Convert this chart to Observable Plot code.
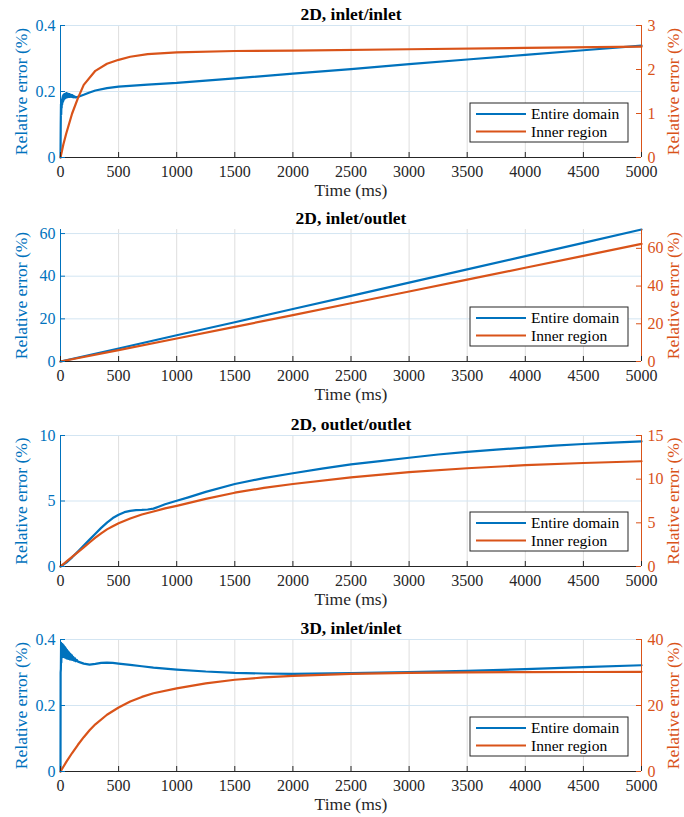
<!DOCTYPE html>
<html><head><meta charset="utf-8">
<script src="https://cdn.jsdelivr.net/npm/d3@7"></script>
<script src="https://cdn.jsdelivr.net/npm/@observablehq/plot@0.6"></script>
<style>body{margin:0;background:#fff;} #chart svg{display:block;}</style>
</head><body><div id="chart"></div>
<script>
const BLUE = "#0072BD", ORANGE = "#D95319";
const timeTicks = [0, 500, 1000, 1500, 2000, 2500, 3000, 3500, 4000, 4500, 5000];
const panelTitles = ["2D, inlet/inlet", "2D, inlet/outlet", "2D, outlet/outlet", "3D, inlet/inlet"];
const seriesNames = ["Entire domain", "Inner region"];
const xLabel = "Time (ms)";
const yLabel = "Relative error (%)";

// Panel 1: 2D, inlet/inlet  (left axis: entire, right axis: inner)
const p1Entire = [[0,0],[2,0.10],[4,0.162],[6,0.13],[8,0.165],[10,0.15],[12,0.175],[14,0.16],[16,0.18],[18,0.166],[20,0.186],[23,0.171],[26,0.19],[29,0.175],[32,0.192],[35,0.178],[38,0.193],[41,0.18],[44,0.194],[47,0.181],[50,0.195],[54,0.182],[58,0.194],[62,0.183],[66,0.193],[70,0.184],[74,0.192],[78,0.184],[82,0.191],[86,0.184],[90,0.19],[95,0.184],[100,0.189],[105,0.183],[110,0.187],[115,0.182],[120,0.185],[130,0.182],[140,0.183],[160,0.185],[200,0.19],[250,0.197],[300,0.203],[400,0.21],[500,0.215],[750,0.221],[1000,0.226],[1500,0.24],[2000,0.254],[2500,0.268],[3000,0.283],[3500,0.297],[4000,0.311],[4500,0.325],[5000,0.339]];
const p1Inner = [[0,0],[25,0.3],[50,0.55],[100,1.0],[150,1.35],[200,1.65],[300,1.97],[400,2.13],[500,2.22],[600,2.29],[750,2.35],[1000,2.39],[1500,2.42],[2000,2.43],[3000,2.46],[4000,2.49],[5000,2.52]];
const p1LeftTicks = [0, 0.2, 0.4], p1RightTicks = [0, 1, 2, 3];

// Panel 2: 2D, inlet/outlet
const p2Entire = [[0,0],[500,6.1],[1000,12.3],[1500,18.4],[2000,24.6],[2500,30.8],[3000,37.0],[3500,43.2],[4000,49.4],[4500,55.6],[5000,61.9]];
const p2Inner = [[0,0],[500,6.0],[1000,12.2],[1500,18.4],[2000,24.6],[2500,30.9],[3000,37.1],[3500,43.4],[4000,49.7],[4500,56.0],[5000,62.4]];
const p2LeftTicks = [0, 20, 40, 60], p2RightTicks = [0, 20, 40, 60];

// Panel 3: 2D, outlet/outlet
const p3Entire = [[0,0],[50,0.3],[100,0.7],[150,1.15],[200,1.6],[250,2.05],[300,2.5],[350,2.95],[400,3.35],[450,3.7],[500,3.95],[550,4.15],[600,4.25],[650,4.3],[700,4.32],[750,4.35],[800,4.42],[850,4.58],[900,4.75],[1000,5.02],[1100,5.28],[1250,5.7],[1500,6.3],[1750,6.75],[2000,7.12],[2250,7.47],[2500,7.8],[2750,8.05],[3000,8.3],[3250,8.55],[3500,8.75],[3750,8.92],[4000,9.08],[4250,9.22],[4500,9.35],[4750,9.45],[5000,9.55]];
const p3Inner = [[0,0],[50,0.55],[100,1.1],[150,1.65],[200,2.2],[250,2.75],[300,3.3],[350,3.8],[400,4.25],[450,4.6],[500,4.95],[600,5.5],[700,5.95],[800,6.3],[900,6.65],[1000,6.95],[1250,7.75],[1500,8.45],[1750,9.0],[2000,9.45],[2500,10.2],[3000,10.8],[3500,11.25],[4000,11.6],[4500,11.85],[5000,12.05]];
const p3LeftTicks = [0, 5, 10], p3RightTicks = [0, 5, 10, 15];

// Panel 4: 3D, inlet/inlet
const p4Entire = [[0,0],[1,0.30],[3,0.31],[5,0.39],[7,0.33],[9,0.385],[11,0.345],[13,0.387],[15,0.35],[18,0.385],[21,0.348],[24,0.383],[27,0.347],[30,0.38],[34,0.346],[38,0.377],[42,0.345],[46,0.373],[50,0.343],[55,0.369],[60,0.342],[65,0.364],[70,0.341],[75,0.36],[80,0.34],[86,0.356],[92,0.339],[98,0.352],[104,0.338],[110,0.347],[117,0.336],[124,0.343],[132,0.334],[140,0.338],[150,0.333],[175,0.33],[200,0.327],[250,0.324],[300,0.326],[350,0.329],[400,0.33],[450,0.329],[500,0.327],[600,0.323],[700,0.319],[800,0.315],[1000,0.309],[1250,0.303],[1500,0.299],[1750,0.297],[2000,0.296],[2500,0.298],[3000,0.301],[3500,0.305],[4000,0.31],[4500,0.316],[5000,0.322]];
const p4Inner = [[0,0],[50,2.9],[100,5.6],[150,8.1],[200,10.4],[250,12.5],[300,14.3],[400,17.2],[500,19.4],[600,21.2],[700,22.6],[800,23.7],[1000,25.2],[1250,26.7],[1500,27.8],[1750,28.5],[2000,29.0],[2500,29.6],[3000,29.9],[3500,30.05],[4000,30.1],[4500,30.15],[5000,30.2]];
const p4LeftTicks = [0, 0.2, 0.4], p4RightTicks = [0, 20, 40];

const panels = [
  {title: panelTitles[0], entire: p1Entire, inner: p1Inner, leftMax: 0.4, rightMax: 3, leftTicks: p1LeftTicks, rightTicks: p1RightTicks, mt: 25, ph: 132, mb: 47},
  {title: panelTitles[1], entire: p2Entire, inner: p2Inner, leftMax: 61.9, rightMax: 70, leftTicks: p2LeftTicks, rightTicks: p2RightTicks, mt: 25, ph: 132, mb: 47},
  {title: panelTitles[2], entire: p3Entire, inner: p3Inner, leftMax: 10, rightMax: 15, leftTicks: p3LeftTicks, rightTicks: p3RightTicks, mt: 27, ph: 131, mb: 47},
  {title: panelTitles[3], entire: p4Entire, inner: p4Inner, leftMax: 0.4, rightMax: 40, leftTicks: p4LeftTicks, rightTicks: p4RightTicks, mt: 26, ph: 132, mb: 46}
];

const fmt = v => String(+(+v).toFixed(6));
const W = 684, ML = 60, MR = 43, FONT = "'Liberation Serif', 'Times New Roman', serif";
const chart = document.getElementById("chart");

for (const p of panels) {
  const k = p.leftMax / p.rightMax;
  const pw = W - ML - MR;
  const tx = 5000 * 5 / pw, ty = p.leftMax * 5 / p.ph;
  const rightPos = p.rightTicks.map(t => t * k);
  const svg = Plot.plot({
    width: W, height: p.mt + p.ph + p.mb,
    marginLeft: ML, marginRight: MR, marginTop: p.mt, marginBottom: p.mb,
    x: {domain: [0, 5000]},
    y: {domain: [0, p.leftMax]},
    style: {fontFamily: FONT, fontSize: "16px", background: "white", overflow: "visible", color: "#262626"},
    marks: [
      Plot.ruleX(timeTicks, {stroke: "#dedede", strokeWidth: 1}),
      Plot.ruleY(p.leftTicks, {stroke: "#d3e5f2", strokeWidth: 1}),
      Plot.line(p.entire, {x: d => d[0], y: d => d[1], stroke: BLUE, strokeWidth: 2.2}),
      Plot.line(p.inner, {x: d => d[0], y: d => d[1] * k, stroke: ORANGE, strokeWidth: 2.2}),
      Plot.ruleY([0], {stroke: "#262626"}),
      Plot.ruleX([0], {stroke: BLUE}),
      Plot.ruleX([5000], {stroke: ORANGE}),
      Plot.ruleX(timeTicks, {y1: 0, y2: ty, stroke: "#262626"}),
      Plot.ruleY(p.leftTicks, {x1: 0, x2: tx, stroke: BLUE}),
      Plot.ruleY(rightPos, {x1: 5000 - tx, x2: 5000, stroke: ORANGE}),
      Plot.axisX(timeTicks, {tickSize: 0, tickPadding: 8, tickFormat: d => String(d), label: null, fill: "#262626"}),
      Plot.axisY(p.leftTicks, {anchor: "left", tickSize: 0, tickPadding: 5, tickFormat: fmt, label: null, fill: BLUE}),
      Plot.axisY(rightPos, {anchor: "right", tickSize: 0, tickPadding: 6, tickFormat: d => fmt(d / k), label: null, fill: ORANGE}),
      Plot.text([p.title], {text: d => d, frameAnchor: "top", dy: -11, lineAnchor: "middle", textAnchor: "middle", fontWeight: "bold", fontSize: 17.5, fill: "#000"}),
      Plot.text([xLabel], {text: d => d, frameAnchor: "bottom", dy: 33, lineAnchor: "middle", textAnchor: "middle", fontSize: 17.5, fill: "#262626"}),
      Plot.text([yLabel], {text: d => d, frameAnchor: "left", dx: -39, rotate: -90, lineAnchor: "middle", textAnchor: "middle", fontSize: 17.5, fill: BLUE}),
      Plot.text([yLabel], {text: d => d, frameAnchor: "right", dx: 32, rotate: -90, lineAnchor: "middle", textAnchor: "middle", fontSize: 17.5, fill: ORANGE})
    ]
  });
  // legend
  const bw = 158, bh = 39;
  const bx = W - MR - 13 - bw, by = p.mt + p.ph - 15 - bh;
  const g = d3.select(svg).append("g").attr("font-family", FONT).attr("font-size", "15.5px").attr("text-anchor", "start");
  g.append("rect").attr("x", bx).attr("y", by).attr("width", bw).attr("height", bh)
    .attr("fill", "white").attr("stroke", "#262626").attr("stroke-width", 1);
  [BLUE, ORANGE].forEach((c, i) => {
    const yy = by + 11 + i * 17.5;
    g.append("line").attr("x1", bx + 6).attr("x2", bx + 56).attr("y1", yy).attr("y2", yy)
      .attr("stroke", c).attr("stroke-width", 2.2);
    g.append("text").attr("x", bx + 61).attr("y", yy).attr("dy", "0.35em").attr("fill", "#000").attr("text-anchor", "start").text(seriesNames[i]);
  });
  chart.appendChild(svg);
}
</script></body></html>
